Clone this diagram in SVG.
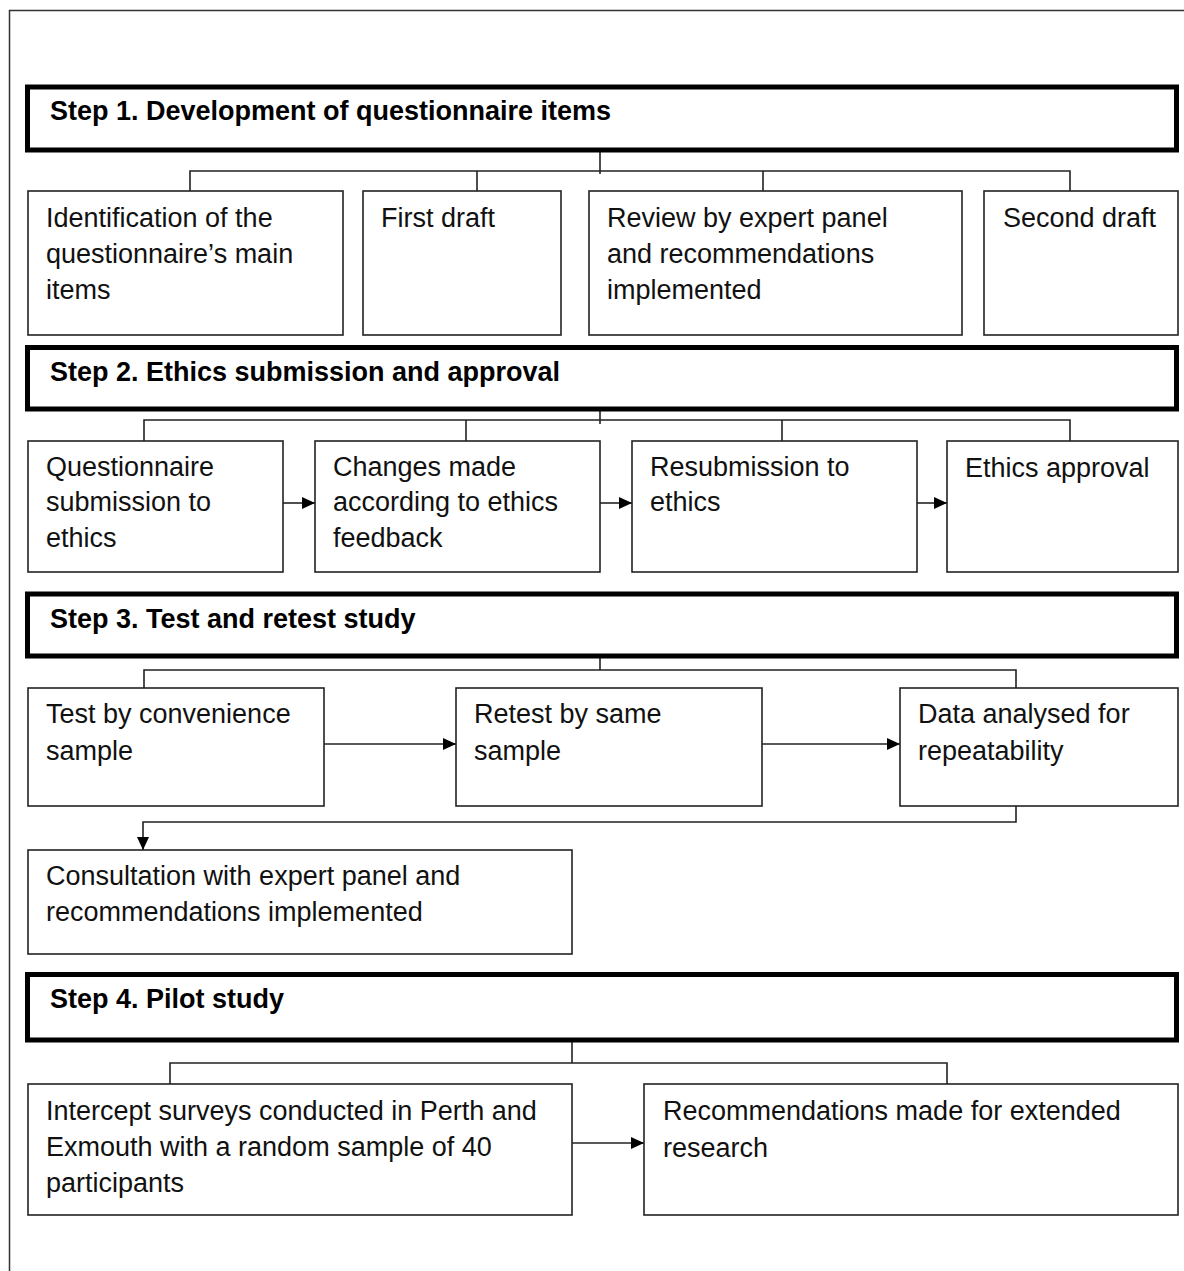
<svg xmlns="http://www.w3.org/2000/svg" width="1184" height="1271" viewBox="0 0 1184 1271">
<style>
.frame{fill:none;stroke:#333;stroke-width:1.5}
.hdr{fill:#fff;stroke:#000;stroke-width:5}
.box{fill:#fff;stroke:#222;stroke-width:1.6}
.ln{fill:none;stroke:#222;stroke-width:1.6}
.ht{font-family:"Liberation Sans",Arial,sans-serif;font-weight:bold;font-size:27px;fill:#000}
.bt{font-family:"Liberation Sans",Arial,sans-serif;font-size:27px;fill:#111}
</style>
<defs>
<marker id="ah" markerWidth="13" markerHeight="12" refX="13" refY="6" orient="auto" markerUnits="userSpaceOnUse">
<path d="M0,0 L13,6 L0,12 Z" fill="#000"/>
</marker>
</defs>
<rect width="1184" height="1271" fill="#fff"/>
<rect class="frame" x="9.5" y="10.5" width="1200" height="1300"/>

<g id="connectors">
<path class="ln" d="M600,148 V174 M190,191 V171 H1070 V191 M477,171 V191 M763,171 V191"/>
<path class="ln" d="M600,407 V424 M144,441 V420 H1070 V441 M466,420 V441 M782,420 V441"/>
<path class="ln" marker-end="url(#ah)" d="M283,503 H315"/>
<path class="ln" marker-end="url(#ah)" d="M600,503 H632"/>
<path class="ln" marker-end="url(#ah)" d="M917,503 H947"/>
<path class="ln" d="M600,655 V670 M144,688 V670 H1016 V688"/>
<path class="ln" marker-end="url(#ah)" d="M324,744 H456"/>
<path class="ln" marker-end="url(#ah)" d="M762,744 H900"/>
<path class="ln" marker-end="url(#ah)" d="M1016,802 V822 H143 V850"/>
<path class="ln" d="M572,1040 V1063 M170,1084 V1063 H947 V1084"/>
<path class="ln" marker-end="url(#ah)" d="M572,1143 H644"/>
</g>

<g id="step1">
<rect class="hdr" x="27.5" y="87" width="1149" height="63"/>
<text class="ht" x="50" y="120">Step 1. Development of questionnaire items</text>
</g>
<g id="s1-identification">
<rect class="box" x="28" y="191" width="315" height="144"/>
<text class="bt" x="46" y="227">Identification of the</text>
<text class="bt" x="46" y="263">questionnaire’s  main</text>
<text class="bt" x="46" y="299">items</text>
</g>
<g id="s1-first-draft">
<rect class="box" x="363" y="191" width="198" height="144"/>
<text class="bt" x="381" y="227">First draft</text>
</g>
<g id="s1-review">
<rect class="box" x="589" y="191" width="373" height="144"/>
<text class="bt" x="607" y="227">Review by expert panel</text>
<text class="bt" x="607" y="263">and recommendations</text>
<text class="bt" x="607" y="299">implemented</text>
</g>
<g id="s1-second-draft">
<rect class="box" x="984" y="191" width="194" height="144"/>
<text class="bt" x="1003" y="227">Second draft</text>
</g>

<g id="step2">
<rect class="hdr" x="27.5" y="347.5" width="1149" height="61.5"/>
<text class="ht" x="50" y="381">Step 2. Ethics submission and approval</text>
</g>
<g id="s2-submission">
<rect class="box" x="28" y="441" width="255" height="131"/>
<text class="bt" x="46" y="476">Questionnaire</text>
<text class="bt" x="46" y="511">submission to</text>
<text class="bt" x="46" y="547">ethics</text>
</g>
<g id="s2-changes">
<rect class="box" x="315" y="441" width="285" height="131"/>
<text class="bt" x="333" y="476">Changes made</text>
<text class="bt" x="333" y="511">according to ethics</text>
<text class="bt" x="333" y="547">feedback</text>
</g>
<g id="s2-resubmission">
<rect class="box" x="632" y="441" width="285" height="131"/>
<text class="bt" x="650" y="476">Resubmission to</text>
<text class="bt" x="650" y="511">ethics</text>
</g>
<g id="s2-approval">
<rect class="box" x="947" y="441" width="231" height="131"/>
<text class="bt" x="965" y="477">Ethics approval</text>
</g>

<g id="step3">
<rect class="hdr" x="27.5" y="594" width="1149" height="62"/>
<text class="ht" x="50" y="628">Step 3. Test and retest study</text>
</g>
<g id="s3-test">
<rect class="box" x="28" y="688" width="296" height="118"/>
<text class="bt" x="46" y="723">Test by convenience</text>
<text class="bt" x="46" y="760">sample</text>
</g>
<g id="s3-retest">
<rect class="box" x="456" y="688" width="306" height="118"/>
<text class="bt" x="474" y="723">Retest by same</text>
<text class="bt" x="474" y="760">sample</text>
</g>
<g id="s3-data">
<rect class="box" x="900" y="688" width="278" height="118"/>
<text class="bt" x="918" y="723">Data analysed  for</text>
<text class="bt" x="918" y="760">repeatability</text>
</g>
<g id="s3-consultation">
<rect class="box" x="28" y="850" width="544" height="104"/>
<text class="bt" x="46" y="885">Consultation  with expert panel and</text>
<text class="bt" x="46" y="921">recommendations implemented</text>
</g>

<g id="step4">
<rect class="hdr" x="27.5" y="974.5" width="1149" height="65.5"/>
<text class="ht" x="50" y="1008">Step 4. Pilot study</text>
</g>
<g id="s4-intercept">
<rect class="box" x="28" y="1084" width="544" height="131"/>
<text class="bt" x="46" y="1120">Intercept surveys conducted in Perth and</text>
<text class="bt" x="46" y="1156">Exmouth with a random sample of 40</text>
<text class="bt" x="46" y="1192">participants</text>
</g>
<g id="s4-recommendations">
<rect class="box" x="644" y="1084" width="534" height="131"/>
<text class="bt" x="663" y="1120">Recommendations made for extended</text>
<text class="bt" x="663" y="1157">research</text>
</g>
</svg>
